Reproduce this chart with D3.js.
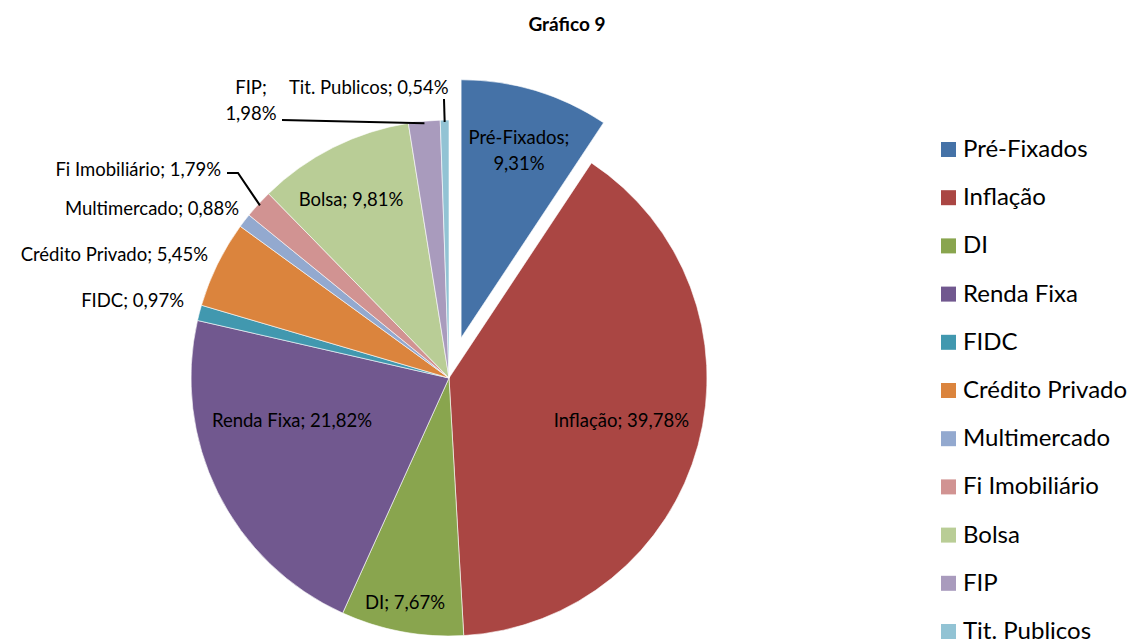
<!DOCTYPE html>
<html>
<head>
<meta charset="utf-8">
<script src="https://cdn.jsdelivr.net/npm/d3@7"></script>
<style>
  body { margin: 0; background: #fff; }
  svg text { font-family: Lato, "Open Sans", sans-serif; fill: #000; }
</style>
</head>
<body>
<svg id="chart"></svg>
<script>
// data
let categories = ["Pré-Fixados", "Inflação", "DI", "Renda Fixa", "FIDC", "Crédito Privado",
  "Multimercado", "Fi Imobiliário", "Bolsa", "FIP", "Tit. Publicos"];
let values = [9.31, 39.78, 7.67, 21.82, 0.97, 5.45, 0.88, 1.79, 9.81, 1.98, 0.54];
let colors = ["#4572A7", "#AA4643", "#89A54E", "#71588F", "#4198AF", "#DB843D",
  "#93A9CF", "#D19392", "#B9CD96", "#A99BBD", "#92C3D4"];

let width = 1131, height = 641;
let cx = 449, cy = 378, radius = 258;
let explode = 42; // Pré-Fixados pulled out

let svg = d3.select("#chart").attr("width", width).attr("height", height);

svg.append("text")
  .attr("x", 567).attr("y", 31)
  .attr("text-anchor", "middle")
  .style("font-size", "19px")
  .style("font-weight", "bold")
  .text("Gráfico 9");

let pie = d3.pie().sort(null).value(d => d.value);
let arc = d3.arc().innerRadius(0).outerRadius(radius);

let data = categories.map((c, i) => ({ name: c, value: values[i], color: colors[i] }));
let arcs = pie(data);

let g = svg.append("g").attr("transform", "translate(" + cx + "," + cy + ")");

function offset(d) {
  if (d.index != 0) return [0, 0];
  let a = (d.startAngle + d.endAngle) / 2;
  return [Math.sin(a) * explode, -Math.cos(a) * explode];
}

g.selectAll("path")
  .data(arcs)
  .enter()
  .append("path")
  .attr("d", arc)
  .attr("transform", d => "translate(" + offset(d) + ")")
  .attr("fill", d => d.data.color)
  .attr("stroke", "#fff")
  .attr("stroke-width", 0.6);

// labels (percent as "9,31%")
function fmt(v) { return v.toFixed(2).replace(".", ",") + "%"; }

// label layout in page coords (baselines)
let labelLayout = {
  "Pré-Fixados": { x: 519, y: [144, 170], anchor: "middle", split: true },
  "Inflação": { x: 689, y: [427], anchor: "end" },
  "DI": { x: 405, y: [609], anchor: "middle" },
  "Renda Fixa": { x: 292, y: [427], anchor: "middle" },
  "FIDC": { x: 184, y: [307], anchor: "end" },
  "Crédito Privado": { x: 208, y: [261], anchor: "end" },
  "Multimercado": { x: 239, y: [215], anchor: "end" },
  "Fi Imobiliário": { x: 221, y: [176], anchor: "end" },
  "Bolsa": { x: 351, y: [206], anchor: "middle" },
  "FIP": { x: 251, y: [94, 120], anchor: "middle", split: true },
  "Tit. Publicos": { x: 289, y: [94], anchor: "start" }
};

arcs.forEach(d => {
  let L = labelLayout[d.data.name];
  let lines = L.split ? [d.data.name + ";", fmt(d.data.value)] : [d.data.name + "; " + fmt(d.data.value)];
  let t = svg.append("text")
    .attr("text-anchor", L.anchor)
    .style("font-size", "18.5px");
  lines.forEach((s, i) => {
    t.append("tspan").attr("x", L.x).attr("y", L.y[i]).text(s);
  });
});

// leader lines for the small outside slices
let leaders = {
  "FIP": [[282, 120]],
  "Tit. Publicos": [[444, 99]],
  "Fi Imobiliário": [[227, 173], [238, 173]]
};
arcs.forEach(d => {
  let pts = leaders[d.data.name];
  if (!pts) return;
  let a = (d.startAngle + d.endAngle) / 2;
  let end = [cx + Math.sin(a) * (radius - 2), cy - Math.cos(a) * (radius - 2)];
  svg.append("path")
    .attr("d", d3.line()(pts.concat([end])))
    .attr("fill", "none")
    .attr("stroke", "#000")
    .attr("stroke-width", 2);
});

// legend
let legend = svg.append("g").attr("transform", "translate(941,142)");
let row = legend.selectAll("g")
  .data(data)
  .enter()
  .append("g")
  .attr("transform", (d, i) => "translate(0," + i * 48.2 + ")");
row.append("rect")
  .attr("width", 15).attr("height", 15)
  .attr("fill", d => d.color);
row.append("text")
  .attr("x", 22).attr("y", 15)
  .style("font-size", "24px")
  .text(d => d.name);
</script>
</body>
</html>
